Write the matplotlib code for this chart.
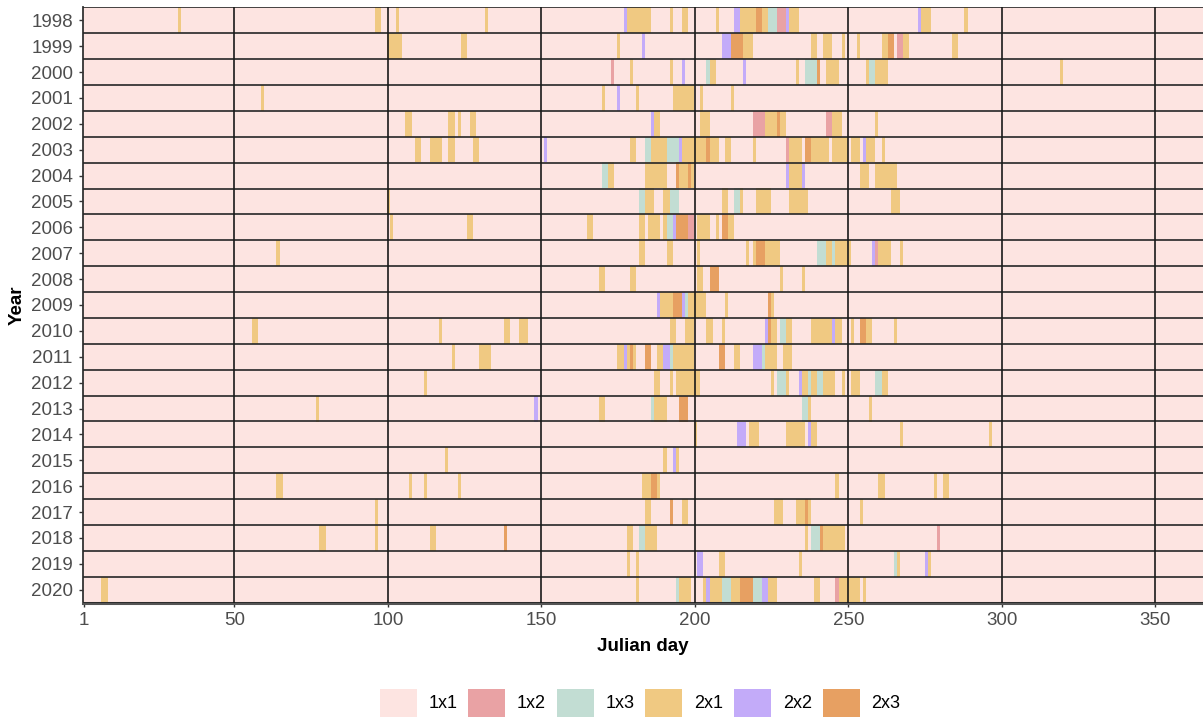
import numpy as np
import matplotlib
matplotlib.use("Agg")
import matplotlib.pyplot as plt
from matplotlib.colors import ListedColormap
from matplotlib.patches import Patch

plt.rcParams['font.family'] = ['Liberation Sans', 'DejaVu Sans']

years = list(range(1998, 2021))
n_days = 365
classes = ['1x1', '1x2', '1x3', '2x1', '2x2', '2x3']
class_colors = ['#FDE4E1', '#E9A2A4', '#C2DDD3', '#F0C982', '#C3ABF9', '#E7A062']

# runs of consecutive days per class: (year, first day, last day); every other day is 1x1
runs_2x1 = [
    (1998, 32, 32), (1998, 96, 97), (1998, 103, 103), (1998, 132, 132), (1998, 178, 185),
    (1998, 192, 192), (1998, 196, 197), (1998, 207, 207), (1998, 215, 219), (1998, 222, 223),
    (1998, 231, 233), (1998, 274, 276), (1998, 288, 288),
    (1999, 100, 104), (1999, 124, 125), (1999, 175, 175), (1999, 216, 218), (1999, 238, 239),
    (1999, 242, 244), (1999, 248, 248), (1999, 253, 253), (1999, 261, 262), (1999, 268, 269),
    (1999, 284, 285),
    (2000, 179, 179), (2000, 192, 192), (2000, 205, 206), (2000, 233, 233), (2000, 243, 246),
    (2000, 256, 256), (2000, 259, 262), (2000, 319, 319),
    (2001, 59, 59), (2001, 170, 170), (2001, 181, 181), (2001, 193, 199), (2001, 202, 202),
    (2001, 212, 212),
    (2002, 106, 107), (2002, 120, 121), (2002, 123, 123), (2002, 127, 128), (2002, 187, 188),
    (2002, 202, 204), (2002, 223, 226), (2002, 228, 229), (2002, 245, 247), (2002, 259, 259),
    (2003, 109, 110), (2003, 114, 117), (2003, 120, 121), (2003, 128, 129), (2003, 179, 180),
    (2003, 186, 190), (2003, 196, 203), (2003, 205, 207), (2003, 210, 211), (2003, 219, 219),
    (2003, 231, 234), (2003, 238, 243), (2003, 245, 249), (2003, 251, 253), (2003, 256, 258),
    (2003, 261, 261),
    (2004, 172, 173), (2004, 184, 190), (2004, 195, 197), (2004, 199, 199), (2004, 231, 234),
    (2004, 254, 256), (2004, 259, 265),
    (2005, 100, 100), (2005, 184, 186), (2005, 190, 191), (2005, 209, 210), (2005, 215, 215),
    (2005, 220, 224), (2005, 231, 236), (2005, 264, 266),
    (2006, 101, 101), (2006, 126, 127), (2006, 165, 166), (2006, 182, 183), (2006, 185, 188),
    (2006, 190, 190), (2006, 201, 204), (2006, 207, 207), (2006, 211, 212),
    (2007, 64, 64), (2007, 182, 183), (2007, 191, 192), (2007, 201, 201), (2007, 217, 217),
    (2007, 219, 219), (2007, 223, 227), (2007, 243, 244), (2007, 246, 250), (2007, 260, 263),
    (2007, 267, 267),
    (2008, 169, 170), (2008, 179, 180), (2008, 201, 202), (2008, 228, 228), (2008, 235, 235),
    (2009, 189, 192), (2009, 198, 203), (2009, 210, 210), (2009, 225, 225),
    (2010, 56, 57), (2010, 117, 117), (2010, 138, 139), (2010, 143, 145), (2010, 192, 193),
    (2010, 197, 199), (2010, 204, 205), (2010, 209, 209), (2010, 225, 226), (2010, 230, 231),
    (2010, 238, 244), (2010, 246, 247), (2010, 251, 251), (2010, 256, 257), (2010, 265, 265),
    (2011, 121, 121), (2011, 130, 133), (2011, 175, 176), (2011, 178, 178), (2011, 180, 180),
    (2011, 188, 189), (2011, 193, 199), (2011, 213, 214), (2011, 223, 226), (2011, 229, 231),
    (2012, 112, 112), (2012, 187, 188), (2012, 192, 192), (2012, 194, 201), (2012, 225, 225),
    (2012, 230, 230), (2012, 235, 236), (2012, 238, 239), (2012, 242, 245), (2012, 248, 248),
    (2012, 251, 253), (2012, 261, 262),
    (2013, 77, 77), (2013, 169, 170), (2013, 187, 190), (2013, 237, 237), (2013, 257, 257),
    (2014, 200, 200), (2014, 218, 220), (2014, 230, 235), (2014, 238, 239), (2014, 267, 267),
    (2014, 296, 296),
    (2015, 119, 119), (2015, 190, 190), (2015, 194, 194),
    (2016, 64, 65), (2016, 107, 107), (2016, 112, 112), (2016, 123, 123), (2016, 183, 185),
    (2016, 188, 188), (2016, 246, 246), (2016, 260, 261), (2016, 278, 278), (2016, 281, 282),
    (2017, 96, 96), (2017, 184, 185), (2017, 196, 197), (2017, 226, 228), (2017, 233, 235),
    (2017, 237, 237), (2017, 254, 254),
    (2018, 78, 79), (2018, 96, 96), (2018, 114, 115), (2018, 178, 179), (2018, 184, 187),
    (2018, 236, 236), (2018, 242, 248),
    (2019, 178, 178), (2019, 181, 181), (2019, 208, 209), (2019, 234, 234), (2019, 266, 266),
    (2019, 276, 276),
    (2020, 7, 8), (2020, 181, 181), (2020, 195, 198), (2020, 203, 203), (2020, 205, 208),
    (2020, 212, 214), (2020, 224, 226), (2020, 239, 240), (2020, 247, 253), (2020, 255, 255),
]

runs_1x2 = [
    (1998, 227, 229), (1999, 266, 267), (2000, 173, 173), (2002, 219, 222), (2002, 243, 244),
    (2003, 230, 230), (2006, 198, 199), (2007, 259, 259), (2018, 279, 279), (2020, 246, 246),
]

runs_1x3 = [
    (1998, 224, 226), (2000, 204, 204), (2000, 236, 239), (2000, 257, 258), (2003, 184, 185),
    (2003, 191, 194), (2004, 170, 171), (2005, 182, 183), (2005, 192, 194), (2005, 213, 214),
    (2006, 191, 192), (2007, 240, 242), (2007, 245, 245), (2009, 197, 197), (2010, 228, 229),
    (2011, 192, 192), (2011, 222, 222), (2012, 227, 229), (2012, 237, 237), (2012, 240, 241),
    (2012, 259, 260), (2013, 186, 186), (2013, 235, 236), (2018, 182, 183), (2018, 238, 240),
    (2019, 265, 265), (2020, 194, 194), (2020, 209, 211), (2020, 219, 221),
]

runs_2x2 = [
    (1998, 177, 177), (1998, 213, 214), (1998, 230, 230), (1998, 273, 273), (1999, 183, 183),
    (1999, 209, 211), (2000, 196, 196), (2000, 216, 216), (2001, 175, 175), (2002, 186, 186),
    (2003, 151, 151), (2003, 195, 195), (2003, 255, 255), (2004, 230, 230), (2004, 235, 235),
    (2006, 193, 193), (2007, 258, 258), (2009, 188, 188), (2009, 196, 196), (2010, 223, 223),
    (2010, 245, 245), (2011, 177, 177), (2011, 190, 191), (2011, 219, 221), (2012, 234, 234),
    (2013, 148, 148), (2014, 214, 216), (2014, 237, 237), (2015, 193, 193), (2019, 201, 202),
    (2019, 275, 275), (2020, 204, 204), (2020, 222, 223),
]

runs_2x3 = [
    (1998, 220, 221), (1999, 212, 215), (1999, 263, 264), (2000, 240, 240), (2002, 227, 227),
    (2003, 204, 204), (2003, 236, 237), (2004, 194, 194), (2004, 198, 198), (2006, 194, 197),
    (2006, 209, 210), (2007, 220, 222), (2008, 205, 207), (2009, 193, 195), (2009, 224, 224),
    (2010, 224, 224), (2010, 254, 255), (2011, 179, 179), (2011, 184, 185), (2011, 208, 209),
    (2013, 195, 197), (2016, 186, 187), (2017, 192, 192), (2017, 236, 236), (2018, 138, 138),
    (2018, 241, 241), (2020, 215, 218),
]

# year x day grid of class codes
grid = np.zeros((len(years), n_days), dtype=int)
for code, runs in [(3, runs_2x1), (1, runs_1x2), (2, runs_1x3), (4, runs_2x2), (5, runs_2x3)]:
    for year, first, last in runs:
        grid[year - years[0], first - 1:last] = code

W, H = 1203, 722
fig = plt.figure(figsize=(W / 100, H / 100), dpi=100)
ax = fig.add_axes([82.5 / W, 1 - 602.7 / H, 1 - 82.5 / W, (602.7 - 7.3) / H])

ax.imshow(grid, cmap=ListedColormap(class_colors), vmin=-0.5, vmax=5.5,
          extent=(0.5, n_days + 0.5, years[-1] + 0.5, years[0] - 0.5),
          aspect='auto', interpolation='nearest')

# separators between years and at the day breaks
for yb in np.arange(years[0] - 0.5, years[-1] + 1):
    ax.axhline(yb, color='#262626', lw=1.2, zorder=3)
for xb in range(50, 351, 50):
    ax.axvline(xb, color='#1a1a1a', lw=1.2, zorder=3)

ax.set_xlim(0.5, n_days + 0.5)
ax.set_ylim(years[-1] + 0.5, years[0] - 0.5)
ax.set_xticks([1] + list(range(50, 351, 50)))
ax.set_yticks(years)
ax.tick_params(colors='#333333', labelcolor='#4D4D4D', labelsize=13.5, length=3, width=1)
ax.tick_params(axis='x', pad=4)
ax.tick_params(axis='y', pad=4)

for side in ['top', 'right']:
    ax.spines[side].set_visible(False)
ax.spines['left'].set_color('#333333')
ax.spines['left'].set_linewidth(1.3)
ax.spines['bottom'].set_color('#555555')
ax.spines['bottom'].set_linewidth(2.2)

ax.set_xlabel('Julian day', fontsize=13.5, fontweight='bold', labelpad=6)
ax.set_ylabel('Year', fontsize=13.5, fontweight='bold', labelpad=4)

handles = [Patch(facecolor=c, edgecolor='none', label=lab) for c, lab in zip(class_colors, classes)]
fig.legend(handles=handles, loc='lower center', bbox_to_anchor=(640 / W, 0.0), ncol=6,
           frameon=False, fontsize=13, handlelength=2.05, handleheight=2.0,
           handletextpad=0.65, columnspacing=0.6, borderaxespad=0.1, borderpad=0.2)

fig.savefig('out.png', dpi=100)
